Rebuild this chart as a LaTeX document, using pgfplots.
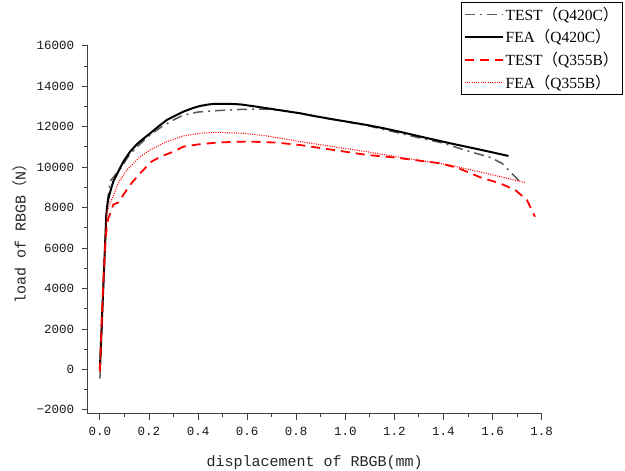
\documentclass[border=0pt]{standalone}
\usepackage{fontspec}
\setmainfont{Liberation Serif}
\setmonofont{Liberation Mono}
\newfontfamily\cjk{Noto Sans CJK SC}
\usepackage{pgfplots}
\pgfplotsset{compat=1.18}
\pgfplotstableread{
x y
0 -450
0.003 300
0.008 1800
0.014 4000
0.02 5800
0.025 7300
0.03 8200
0.035 8700
0.042 9300
0.05 9420
0.065 9650
0.085 9950
0.12 10600
0.16 11100
0.205 11590
0.25 11980
0.3 12330
0.34 12570
0.4 12720
0.476 12790
0.55 12840
0.61 12860
0.68 12860
0.748 12790
0.82 12640
0.9 12460
1.0 12250
1.1 12020
1.224 11670
1.3 11450
1.4 11180
1.495 10810
1.59 10480
1.638 10190
1.685 9610
1.705 9360
1.72 9250
}\testQfour
\pgfplotstableread{
x y
0 0
0.005 1500
0.012 3500
0.02 5800
0.026 7600
0.03 8100
0.035 8450
0.045 8900
0.055 9300
0.07 9650
0.082 9950
0.1 10350
0.123 10760
0.15 11120
0.18 11430
0.205 11670
0.24 12020
0.273 12330
0.31 12560
0.34 12740
0.38 12920
0.408 13020
0.44 13090
0.47 13130
0.52 13130
0.571 13100
0.62 13020
0.68 12910
0.75 12780
0.816 12660
0.88 12510
0.95 12360
1.02 12220
1.088 12080
1.16 11910
1.224 11740
1.32 11470
1.426 11180
1.55 10860
1.665 10550
}\feaQfour
\pgfplotstableread{
x y
0 -100
0.005 1500
0.012 3800
0.02 5800
0.028 7060
0.035 7500
0.042 7700
0.055 8150
0.075 8250
0.1 8700
0.123 9120
0.164 9690
0.21 10270
0.25 10530
0.3 10760
0.34 11010
0.4 11120
0.476 11210
0.55 11250
0.61 11260
0.72 11210
0.816 11090
0.95 10850
1.088 10600
1.196 10480
1.3 10320
1.386 10190
1.46 9950
1.549 9500
1.63 9200
1.692 8870
1.74 8380
1.773 7550
}\testQthree
\pgfplotstableread{
x y
0 0
0.005 1500
0.012 3600
0.02 5800
0.028 7720
0.035 8000
0.048 8380
0.075 9200
0.11 9860
0.164 10510
0.205 10850
0.273 11260
0.34 11540
0.408 11670
0.476 11720
0.585 11670
0.68 11540
0.816 11260
0.95 11010
1.088 10760
1.224 10480
1.426 10100
1.63 9530
1.733 9230
}\feaQthree
\begin{document}
\begin{tikzpicture}
\useasboundingbox (0,0) rectangle (625pt,471pt);
\begin{axis}[
  at={(87.6pt,57.1pt)}, anchor=south west,
  scale only axis, width=454pt, height=368.2pt,
  xmin=-0.05, xmax=1.8, ymin=-2200, ymax=16000,
  scaled y ticks=false,
  axis lines*=left,
  axis line style={black!75, line width=0.8pt},
  tick align=outside,
  major tick length=6pt, minor tick length=3.5pt,
  every tick/.style={black!75, line width=0.8pt},
  minor x tick num=1, minor y tick num=1,
  xtick={0,0.2,0.4,0.6,0.8,1.0,1.2,1.4,1.6,1.8},
  xticklabels={0.0,0.2,0.4,0.6,0.8,1.0,1.2,1.4,1.6,1.8},
  ytick={-2000,0,2000,4000,6000,8000,10000,12000,14000,16000},
  yticklabels={−2000,0,2000,4000,6000,8000,10000,12000,14000,16000},
  ticklabel style={font=\ttfamily\fontsize{12.5}{14}\selectfont, text=black!90},
  xticklabel style={yshift=-4pt},
  yticklabel style={xshift=-4pt},
  xlabel={displacement of RBGB(mm)},
  ylabel={load of RBGB{\cjk （}N{\cjk ）}},
  label style={font=\ttfamily\fontsize{15}{17}\selectfont, text=black!85},
  xlabel style={at={(axis description cs:0.5,-0.131)}, anchor=center},
  ylabel style={at={(axis description cs:-0.149,0.5)}, anchor=center},
  legend style={at={(axis description cs:1.179,1.1187)}, anchor=north east,
    draw=black, line width=0.8pt, font=\fontsize{15.5}{18}\selectfont,
    inner xsep=2pt, inner ysep=2.5pt, row sep=4pt, cells={anchor=west}},
  legend image code/.code={\draw[#1] (0pt,0pt) -- (38pt,0pt);},
]
\addplot[color=black!65, line width=1.5pt, dash pattern=on 10pt off 5pt on 2pt off 5pt] table {\testQfour};
\addlegendentry{TEST{\cjk （}Q420C{\cjk ）}}
\addplot[black, line width=2pt] table {\feaQfour};
\addlegendentry{FEA{\cjk （}Q420C{\cjk ）}}
\addplot[red, line width=1.8pt, dash pattern=on 9pt off 6pt] table {\testQthree};
\addlegendentry{TEST{\cjk （}Q355B{\cjk ）}}
\addplot[red, line width=1.1pt, dash pattern=on 1pt off 1.3pt] table {\feaQthree};
\addlegendentry{FEA{\cjk （}Q355B{\cjk ）}}
\end{axis}
\end{tikzpicture}
\end{document}
